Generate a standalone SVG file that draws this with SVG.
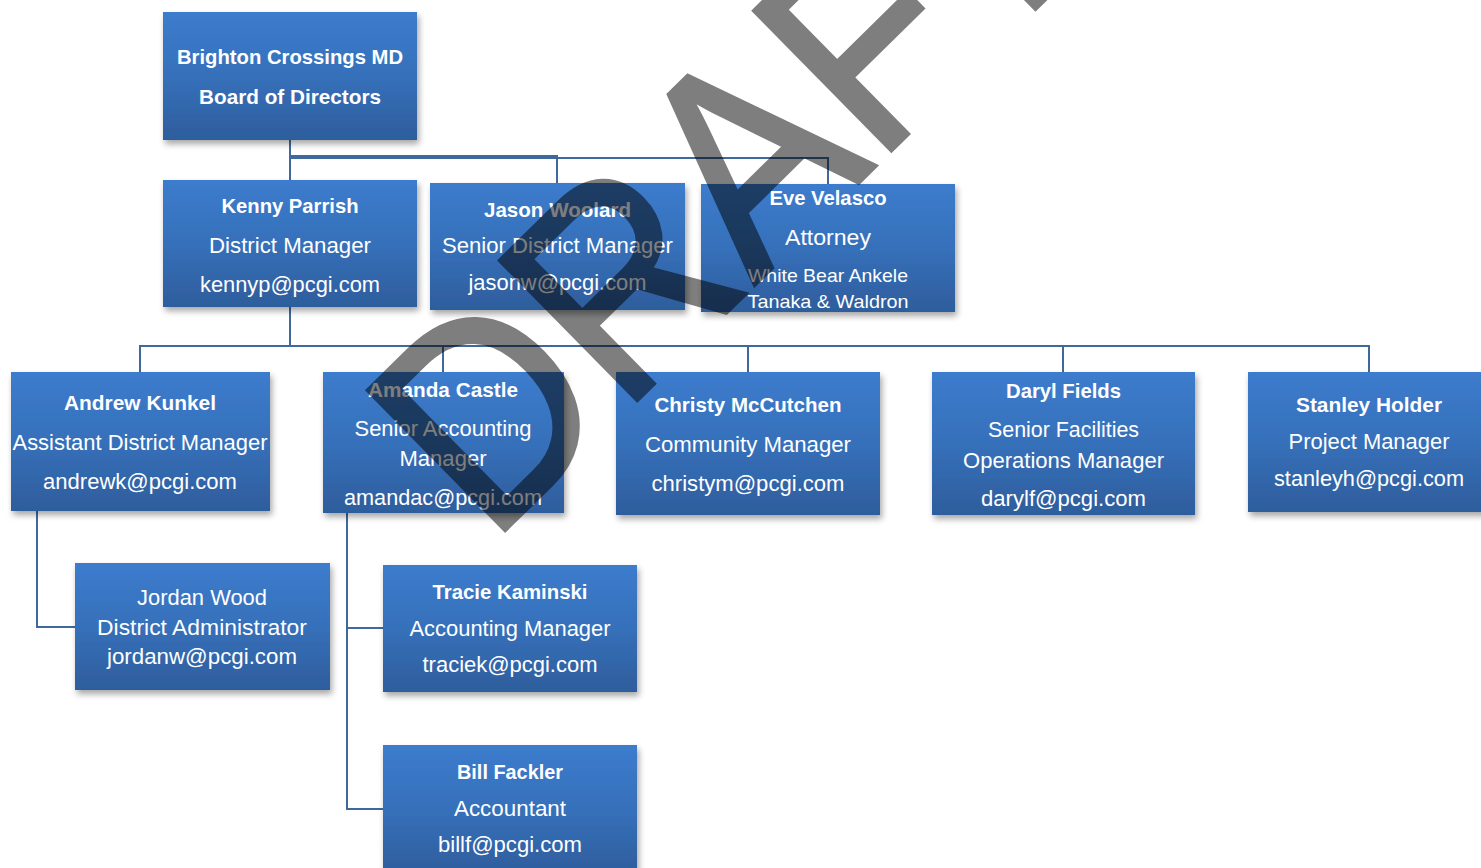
<svg xmlns="http://www.w3.org/2000/svg" width="1481" height="868" viewBox="0 0 1481 868">
<defs>
<linearGradient id="bg" x1="0" y1="0" x2="0" y2="1">
<stop offset="0" stop-color="#3c7ccd"/>
<stop offset="0.5" stop-color="#3670ba"/>
<stop offset="1" stop-color="#2e5d9c"/>
</linearGradient>
<filter id="sh" x="-10%" y="-10%" width="125%" height="130%">
<feDropShadow dx="2" dy="4" stdDeviation="3" flood-color="#000" flood-opacity="0.35"/>
</filter>
</defs>
<style>
.box{fill:url(#bg);filter:url(#sh)}
.t{font-family:"Liberation Sans",Arial,sans-serif;font-size:22px;fill:#fff;text-anchor:middle}
.b{font-weight:bold;font-size:21px}
.s{font-size:19px}
.c{fill:none;stroke:#3f689d;stroke-width:2}
.wm{font-family:"Liberation Sans",Arial,sans-serif;font-size:285px;fill:#000;stroke:#000;stroke-width:4;stroke-linejoin:miter}
</style>
<rect width="1481" height="868" fill="#fff"/>
<g id="connectors">
<path class="c" d="M290,140 V180 M290,156 H557 V183 M290,158 H828 V184"/>
<path class="c" d="M290,307 V346 M140,372 V346 H1369 V372 M443,346 V372 M748,346 V372 M1063,346 V372"/>
<path class="c" d="M37,511 V627 H75 M347,513 V809 H383 M347,628 H383"/>
</g>
<g id="board"><rect class="box" x="163" y="12" width="254" height="128"/>
<text class="t b" x="290" y="64" textLength="226" lengthAdjust="spacingAndGlyphs">Brighton Crossings MD</text>
<text class="t b" x="290" y="104" textLength="182" lengthAdjust="spacingAndGlyphs">Board of Directors</text></g>
<g id="kenny"><rect class="box" x="163" y="180" width="254" height="127"/>
<text class="t b" x="290" y="213" textLength="137" lengthAdjust="spacingAndGlyphs">Kenny Parrish</text>
<text class="t" x="290" y="253" textLength="162" lengthAdjust="spacingAndGlyphs">District Manager</text>
<text class="t" x="290" y="292" textLength="180" lengthAdjust="spacingAndGlyphs">kennyp@pcgi.com</text></g>
<g id="jason"><rect class="box" x="430" y="183" width="255" height="127"/>
<text class="t b" x="557.5" y="217" textLength="147" lengthAdjust="spacingAndGlyphs">Jason Woolard</text>
<text class="t" x="557.5" y="253" textLength="231" lengthAdjust="spacingAndGlyphs">Senior District Manager</text>
<text class="t" x="557.5" y="290" textLength="178" lengthAdjust="spacingAndGlyphs">jasonw@pcgi.com</text></g>
<g id="eve"><rect class="box" x="701" y="184" width="254" height="128"/>
<text class="t b" x="828" y="205" textLength="117" lengthAdjust="spacingAndGlyphs">Eve Velasco</text>
<text class="t" x="828" y="245" textLength="86" lengthAdjust="spacingAndGlyphs">Attorney</text>
<text class="t s" x="828" y="282" textLength="160" lengthAdjust="spacingAndGlyphs">White Bear Ankele</text>
<text class="t s" x="828" y="308" textLength="161" lengthAdjust="spacingAndGlyphs">Tanaka &amp; Waldron</text></g>
<g id="andrew"><rect class="box" x="11" y="372" width="259" height="139"/>
<text class="t b" x="140" y="410" textLength="152" lengthAdjust="spacingAndGlyphs">Andrew Kunkel</text>
<text class="t" x="140" y="450" textLength="255" lengthAdjust="spacingAndGlyphs">Assistant District Manager</text>
<text class="t" x="140" y="489" textLength="194" lengthAdjust="spacingAndGlyphs">andrewk@pcgi.com</text></g>
<g id="amanda"><rect class="box" x="323" y="372" width="241" height="141"/>
<text class="t b" x="443" y="397" textLength="150" lengthAdjust="spacingAndGlyphs">Amanda Castle</text>
<text class="t" x="443" y="436" textLength="177" lengthAdjust="spacingAndGlyphs">Senior Accounting</text>
<text class="t" x="443" y="466" textLength="87" lengthAdjust="spacingAndGlyphs">Manager</text>
<text class="t" x="443" y="505" textLength="198" lengthAdjust="spacingAndGlyphs">amandac@pcgi.com</text></g>
<g id="christy"><rect class="box" x="616" y="372" width="264" height="143"/>
<text class="t b" x="748" y="412" textLength="187" lengthAdjust="spacingAndGlyphs">Christy McCutchen</text>
<text class="t" x="748" y="452" textLength="206" lengthAdjust="spacingAndGlyphs">Community Manager</text>
<text class="t" x="748" y="491" textLength="193" lengthAdjust="spacingAndGlyphs">christym@pcgi.com</text></g>
<g id="daryl"><rect class="box" x="932" y="372" width="263" height="143"/>
<text class="t b" x="1063.5" y="398" textLength="115" lengthAdjust="spacingAndGlyphs">Daryl Fields</text>
<text class="t" x="1063.5" y="437" textLength="151" lengthAdjust="spacingAndGlyphs">Senior Facilities</text>
<text class="t" x="1063.5" y="468" textLength="201" lengthAdjust="spacingAndGlyphs">Operations Manager</text>
<text class="t" x="1063.5" y="506" textLength="165" lengthAdjust="spacingAndGlyphs">darylf@pcgi.com</text></g>
<g id="stanley"><rect class="box" x="1248" y="372" width="242" height="140"/>
<text class="t b" x="1369" y="412" textLength="146" lengthAdjust="spacingAndGlyphs">Stanley Holder</text>
<text class="t" x="1369" y="449" textLength="161" lengthAdjust="spacingAndGlyphs">Project Manager</text>
<text class="t" x="1369" y="486" textLength="190" lengthAdjust="spacingAndGlyphs">stanleyh@pcgi.com</text></g>
<g id="jordan"><rect class="box" x="75" y="563" width="255" height="127"/>
<text class="t" x="202" y="605" textLength="130" lengthAdjust="spacingAndGlyphs">Jordan Wood</text>
<text class="t" x="202" y="635" textLength="210" lengthAdjust="spacingAndGlyphs">District Administrator</text>
<text class="t" x="202" y="664" textLength="190" lengthAdjust="spacingAndGlyphs">jordanw@pcgi.com</text></g>
<g id="tracie"><rect class="box" x="383" y="565" width="254" height="127"/>
<text class="t b" x="510" y="599" textLength="155" lengthAdjust="spacingAndGlyphs">Tracie Kaminski</text>
<text class="t" x="510" y="636" textLength="201" lengthAdjust="spacingAndGlyphs">Accounting Manager</text>
<text class="t" x="510" y="672" textLength="175" lengthAdjust="spacingAndGlyphs">traciek@pcgi.com</text></g>
<g id="bill"><rect class="box" x="383" y="745" width="254" height="130"/>
<text class="t b" x="510" y="779" textLength="106" lengthAdjust="spacingAndGlyphs">Bill Fackler</text>
<text class="t" x="510" y="816" textLength="112" lengthAdjust="spacingAndGlyphs">Accountant</text>
<text class="t" x="510" y="852" textLength="144" lengthAdjust="spacingAndGlyphs">billf@pcgi.com</text></g>
<g id="watermark" opacity="0.5">
<text class="wm" transform="translate(490,545) rotate(-44.5) scale(0.9,1)">DRAFT</text>
</g>
</svg>
